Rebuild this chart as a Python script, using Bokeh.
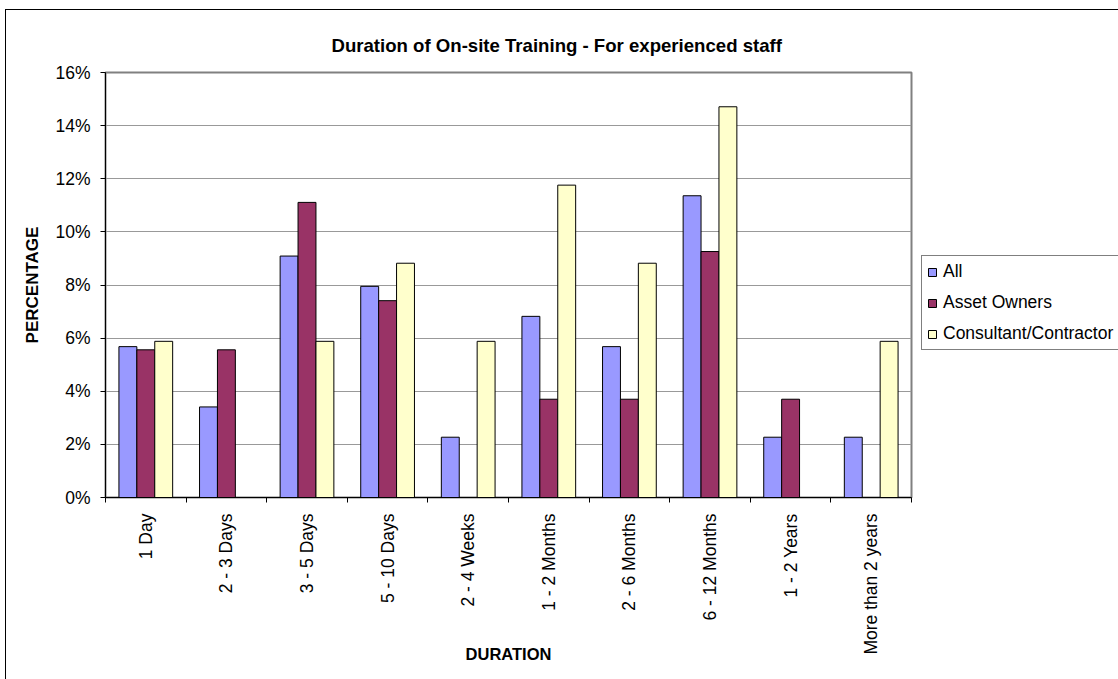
import math
from bokeh.plotting import figure
from bokeh.models import (ColumnDataSource, Range1d, FixedTicker, NumeralTickFormatter,
                          Legend, LegendItem)
from bokeh.transform import dodge
from bokeh.embed import file_html
from bokeh.resources import INLINE

categories = ["1 Day", "2 - 3 Days", "3 - 5 Days", "5 - 10 Days", "2 - 4 Weeks",
              "1 - 2 Months", "2 - 6 Months", "6 - 12 Months", "1 - 2 Years",
              "More than 2 years"]
all_vals = [0.0568, 0.0341, 0.0909, 0.0795, 0.0227, 0.0682, 0.0568, 0.1136, 0.0227, 0.0227]
asset_vals = [0.0556, 0.0556, 0.1111, 0.0741, 0.0, 0.0370, 0.0370, 0.0926, 0.0370, 0.0]
consult_vals = [0.0588, 0.0, 0.0588, 0.0882, 0.0588, 0.1176, 0.0882, 0.1471, 0.0, 0.0588]
series_names = ["All", "Asset Owners", "Consultant/Contractor"]
series_colors = ["#9999FF", "#993366", "#FFFFCC"]
y_ticks = [0.0, 0.02, 0.04, 0.06, 0.08, 0.10, 0.12, 0.14, 0.16]

centers = [i + 0.5 for i in range(len(categories))]
bounds = list(range(len(categories) + 1))

src = ColumnDataSource(dict(x=centers, all=all_vals, asset=asset_vals, consult=consult_vals))

FONT = "Liberation Sans"

p = figure(frame_width=806, frame_height=425, output_backend="svg", toolbar_location=None,
           x_range=Range1d(0, len(categories)), y_range=Range1d(0, 0.16),
           min_border_left=99, min_border_top=62, min_border_right=207,
           min_border_bottom=182)
p.styles = {"border-left": "1px solid black", "border-top": "1px solid black",
            "margin-left": "5px", "margin-top": "9px"}

p.title.text = "Duration of On-site Training - For experienced staff"
p.title.text_font = FONT
p.title.text_font_size = "18.6px"
p.title.text_font_style = "bold"
p.title.text_color = "black"
p.title.align = "left"
p.title.offset = 226
p.title.standoff = 34

p.background_fill_color = "white"
p.border_fill_color = "white"
p.outline_line_color = "#808080"
p.outline_line_width = 2

bw = 1 / 4.5
fields = ["all", "asset", "consult"]
offsets = [-bw, 0.0, bw]
renderers = []
for f, off, col in zip(fields, offsets, series_colors):
    r = p.vbar(x=dodge("x", off), top=f, width=bw, bottom=0, source=src,
               fill_color=col, line_color="black", line_width=1)
    renderers.append(r)

# x axis
xa = p.xaxis[0]
xa.ticker = FixedTicker(ticks=centers, minor_ticks=bounds)
xa.major_label_overrides = {c: lab for c, lab in zip(centers, categories)}
xa.major_label_orientation = math.pi / 2
xa.major_tick_out = 0
xa.major_tick_in = 0
xa.minor_tick_out = 5
xa.minor_tick_in = 0
xa.minor_tick_line_color = "black"
xa.axis_line_color = "black"
xa.major_label_text_font = FONT
xa.major_label_text_font_size = "17.5px"
xa.major_label_text_color = "black"
xa.major_label_standoff = 11
xa.axis_label = "DURATION"
xa.axis_label_text_font = FONT
xa.axis_label_text_font_size = "16.5px"
xa.axis_label_text_font_style = "bold"
xa.axis_label_text_color = "black"
xa.axis_label_standoff = -13

# y axis
ya = p.yaxis[0]
ya.ticker = FixedTicker(ticks=y_ticks)
ya.formatter = NumeralTickFormatter(format="0%")
ya.major_tick_out = 5
ya.major_tick_in = 0
ya.minor_tick_line_color = None
ya.axis_line_color = "black"
ya.major_label_text_font = FONT
ya.major_label_text_font_size = "17.5px"
ya.major_label_text_color = "black"
ya.major_label_standoff = 10
ya.axis_label = "PERCENTAGE"
ya.axis_label_text_font = FONT
ya.axis_label_text_font_size = "17px"
ya.axis_label_text_font_style = "bold"
ya.axis_label_text_color = "black"
ya.axis_label_standoff = 10

p.xgrid.grid_line_color = None
p.ygrid.grid_line_color = "#999999"
p.ygrid.grid_line_width = 1

legend = Legend(items=[LegendItem(label=n, renderers=[r]) for n, r in zip(series_names, renderers)],
                location=(10, 147), margin=0, padding=5, spacing=10,
                glyph_width=10, glyph_height=10, label_height=20, label_standoff=6,
                label_text_font=FONT, label_text_font_size="17.5px",
                label_text_color="black",
                border_line_color="black", border_line_width=1,
                background_fill_color="white", background_fill_alpha=1.0)
p.add_layout(legend, "right")

open("out.html", "w").write(file_html(p, INLINE))
